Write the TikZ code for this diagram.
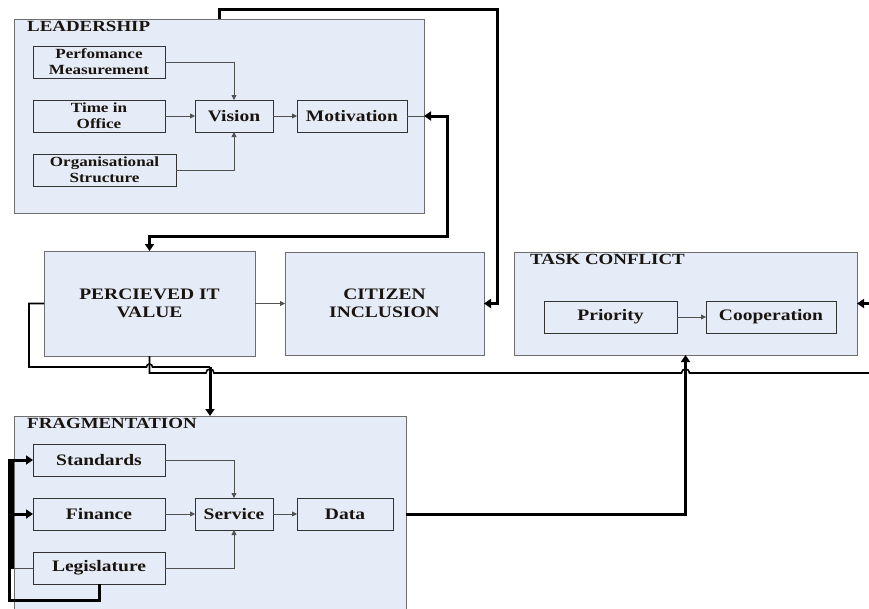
\documentclass[tikz,border=0pt]{standalone}
\usepackage{fontspec}
\setmainfont{Liberation Serif}[FakeStretch=1.22]
\usetikzlibrary{arrows.meta}
\definecolor{boxfill}{RGB}{230,236,247}
\definecolor{outerline}{RGB}{110,110,110}
\definecolor{innerline}{RGB}{50,50,50}
\definecolor{txt}{RGB}{25,20,15}
\newcommand\fnA{\fontsize{16}{17.5}\selectfont\bfseries}
\newcommand\fnS{\fontsize{14}{16}\selectfont\bfseries}
\newcommand\fnT{\fontsize{15.5}{17}\selectfont\bfseries}
\tikzset{
  outerbox/.style={draw=outerline, fill=boxfill, line width=1pt, inner sep=0pt, outer sep=0pt},
  innerbox/.style={draw=innerline, fill=boxfill, line width=0.8pt, inner sep=0pt, outer sep=0pt, align=center, text=txt, font=\fnA},
  smallbox/.style={innerbox, font=\fnS},
  titletext/.style={anchor=base west, inner sep=0pt, text=txt, font=\fnT},
  bigtext/.style={align=center, inner sep=0pt, text=txt, font=\fnA},
  thinarrow/.style={draw=innerline!85, line width=0.8pt, -{Triangle[length=5pt,width=5pt]}},
  thinline/.style={draw=innerline!85, line width=0.8pt},
  heavy/.style={draw=black, line width=3pt},
  heavyarrow/.style={heavy, -{Triangle[length=7pt,width=9pt]}},
  medline/.style={draw=black, line width=1.6pt}
}
\begin{document}
\begin{tikzpicture}[x=1pt,y=-1pt]
\clip (0,0) rectangle (869,608);
\fill[white] (0,0) rectangle (869,608);
% outer boxes
\node[outerbox, minimum width=410pt, minimum height=194pt] (lead) at (219,116) {};
\node[outerbox, minimum width=211pt, minimum height=105pt] (piv) at (149.5,303.5) {};
\node[outerbox, minimum width=199pt, minimum height=103pt] (ci) at (384.5,303.5) {};
\node[outerbox, minimum width=343pt, minimum height=103pt] (task) at (685.5,303.5) {};
\node[outerbox, minimum width=392pt, minimum height=200pt] (frag) at (210,516) {};
% titles
\node[titletext] (leadt) at (27,31) {LEADERSHIP};
\node[titletext] (fragt) at (27,428) {FRAGMENTATION};
\node[titletext] (taskt) at (530,264) {TASK CONFLICT};
\node[bigtext] (pivt) at (piv) {PERCIEVED IT\\VALUE};
\node[bigtext] (cit) at (ci) {CITIZEN\\INCLUSION};
% leadership inner
\node[smallbox, minimum width=132pt, minimum height=32pt] (pm) at (99,62) {Perfomance\\Measurement};
\node[smallbox, minimum width=132pt, minimum height=32pt] (tio) at (99,116) {Time in\\Office};
\node[smallbox, minimum width=143pt, minimum height=32pt] (org) at (104.5,170) {Organisational\\Structure};
\node[innerbox, minimum width=78pt, minimum height=32pt] (vis) at (234,116) {Vision};
\node[innerbox, minimum width=110pt, minimum height=32pt] (mot) at (352,116) {Motivation};
% task conflict inner
\node[innerbox, minimum width=133pt, minimum height=32pt] (pri) at (610.5,317) {Priority};
\node[innerbox, minimum width=130pt, minimum height=32pt] (coop) at (771,317) {Cooperation};
% fragmentation inner
\node[innerbox, minimum width=132pt, minimum height=32pt] (std) at (99,460) {Standards};
\node[innerbox, minimum width=132pt, minimum height=32pt] (fin) at (99,514) {Finance};
\node[innerbox, minimum width=132pt, minimum height=32pt] (leg) at (99,568) {Legislature};
\node[innerbox, minimum width=78pt, minimum height=32pt] (svc) at (234,514) {Service};
\node[innerbox, minimum width=96pt, minimum height=32pt] (data) at (345,514) {Data};
% thin connectors
\draw[thinarrow] (pm.east) -| (vis.north);
\draw[thinarrow] (tio.east) -- (vis.west);
\draw[thinarrow] (org.east) -| (vis.south);
\draw[thinarrow] (vis.east) -- (mot.west);
\draw[thinarrow] (piv.east) -- (ci.west);
\draw[thinarrow] (pri.east) -- (coop.west);
\draw[thinarrow] (std.east) -| (svc.north);
\draw[thinarrow] (fin.east) -- (svc.west);
\draw[thinarrow] (leg.east) -| (svc.south);
\draw[thinarrow] (svc.east) -- (data.west);
\draw[thinline] (mot.east) -- (mot.east -| lead.east);
% heavy connectors
\draw[heavyarrow] (lead.north) |- (497,9) |- (ci.east);
\draw[heavy, {Triangle[length=7pt,width=9pt]}-{Triangle[length=7pt,width=9pt]}] (mot.east -| lead.east) -| (447,236) -| (piv.north);
\coordinate (tr) at (869,303.5);
\draw[heavyarrow] (tr) -- (task.east);
% loop from perceived IT value to fragmentation
\coordinate (j1) at (210,367);
\draw[medline] (piv.west) -| (29,367) -- (146.5,367) arc[start angle=180, end angle=0, radius=3pt] -- (j1);
\draw[heavyarrow] (j1) -- (frag.north);
% line from perceived IT value bottom to the right
\coordinate (re) at (869,373);
\draw[medline] (piv.south) |- (206,373) arc[start angle=180, end angle=0, radius=4pt] -- (681.5,373) arc[start angle=180, end angle=0, radius=4pt] -- (re);
% data to task conflict
\draw[heavyarrow] (data.east -| frag.east) -| (task.south);
% legislature loops
\draw[heavyarrow] (leg.south) |- (9,600) |- (std.west);
\draw[thinline] (leg.west) -- (12,568);
\draw[heavy] (12,569) -- (12,460);
\draw[heavyarrow] (12,514) -- (fin.west);
\end{tikzpicture}
\end{document}
